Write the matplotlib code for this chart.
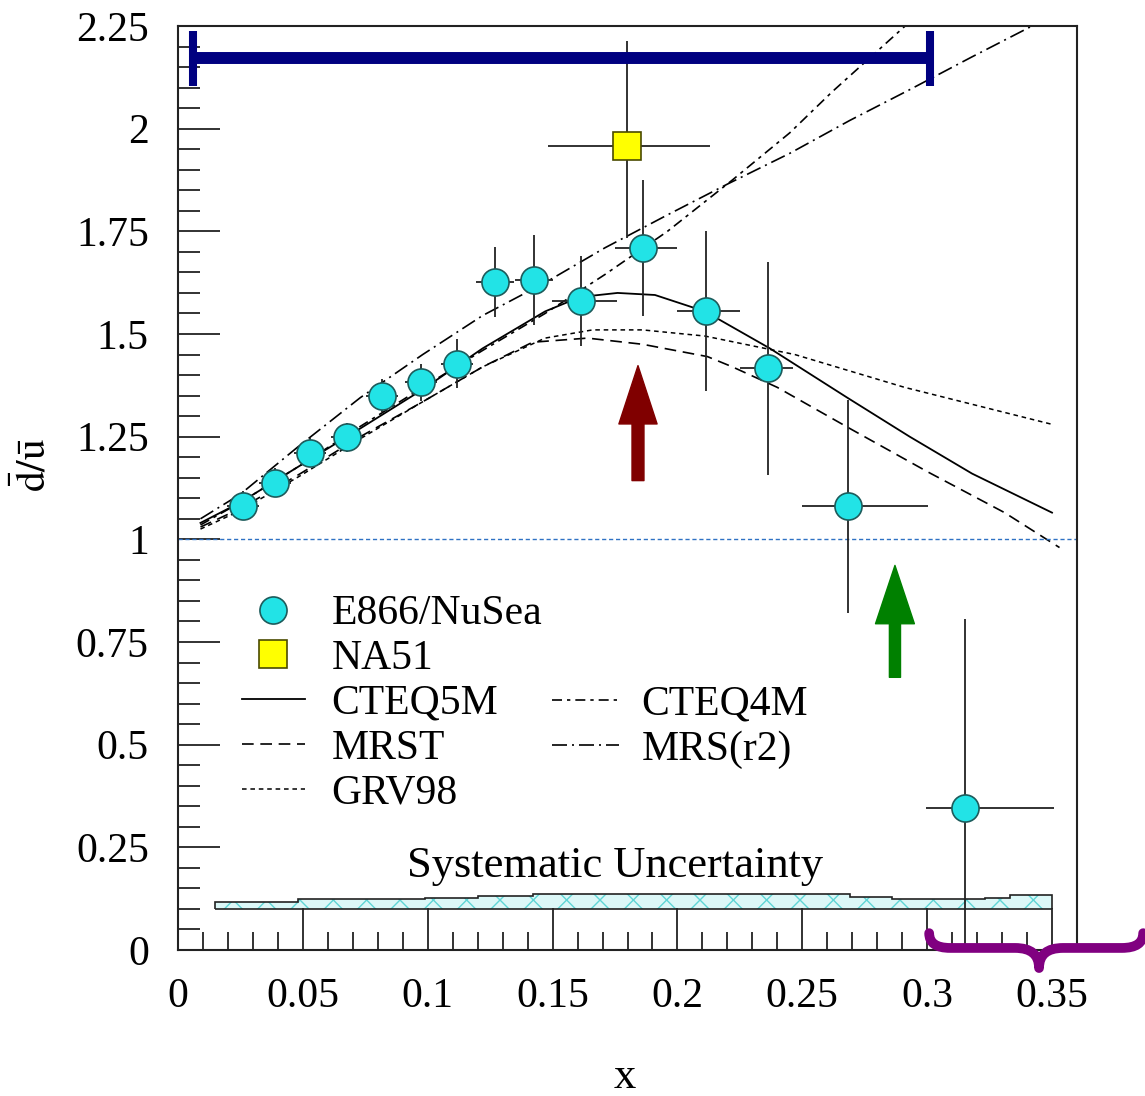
import matplotlib.pyplot as plt
from matplotlib.lines import Line2D
from matplotlib.path import Path
from matplotlib.patches import PathPatch
from matplotlib.ticker import MultipleLocator

plt.rcParams['font.family'] = ['Liberation Serif', 'DejaVu Serif']
plt.rcParams['mathtext.fontset'] = 'stix'
plt.rcParams['hatch.linewidth'] = 1.0

# E866/NuSea dbar/ubar
e866_x = [0.026, 0.0388, 0.0529, 0.0677, 0.0817, 0.0973, 0.1117, 0.127,
          0.1426, 0.1614, 0.1862, 0.2115, 0.2363, 0.2683, 0.3152]
e866_y = [1.082, 1.138, 1.211, 1.248, 1.350, 1.382, 1.428, 1.627,
          1.632, 1.581, 1.710, 1.557, 1.416, 1.080, 0.345]
e866_err = [0.035, 0.035, 0.035, 0.035, 0.04, 0.045, 0.06, 0.085,
            0.11, 0.11, 0.165, 0.195, 0.26, 0.26, 0.46]
e866_xlo = [0.0065, 0.0065, 0.0065, 0.0065, 0.0065, 0.0065, 0.0065, 0.0075,
            0.0075, 0.0116, 0.0112, 0.0118, 0.0112, 0.0184, 0.0156]
e866_xhi = [0.0065, 0.0065, 0.0065, 0.0065, 0.0065, 0.0065, 0.0065, 0.0075,
            0.0075, 0.0144, 0.0136, 0.0136, 0.0101, 0.0321, 0.0356]

# NA51
na51_x = [0.1798]
na51_y = [1.958]
na51_xerr = [[0.0316], [0.0333]]
na51_yerr = [[0.224], [0.256]]

# parametrisations
cteq5m_x = [0.009, 0.025, 0.049, 0.073, 0.098, 0.122, 0.147, 0.161, 0.176,
            0.191, 0.211, 0.237, 0.268, 0.293, 0.318, 0.350]
cteq5m_y = [1.04, 1.09, 1.18, 1.27, 1.365, 1.465, 1.555, 1.59, 1.60,
            1.595, 1.555, 1.465, 1.345, 1.25, 1.16, 1.065]
mrst_x = [0.009, 0.025, 0.049, 0.073, 0.098, 0.122, 0.142, 0.164, 0.186,
          0.212, 0.222, 0.240, 0.269, 0.300, 0.331, 0.353]
mrst_y = [1.03, 1.075, 1.16, 1.25, 1.335, 1.42, 1.48, 1.49, 1.475,
          1.445, 1.42, 1.37, 1.27, 1.165, 1.065, 0.98]
grv98_x = [0.009, 0.025, 0.049, 0.073, 0.098, 0.122, 0.147, 0.166, 0.186,
           0.211, 0.247, 0.291, 0.350]
grv98_y = [1.025, 1.07, 1.155, 1.245, 1.335, 1.42, 1.49, 1.51, 1.51,
           1.495, 1.45, 1.37, 1.28]
cteq4m_x = [0.009, 0.025, 0.049, 0.073, 0.098, 0.122, 0.147, 0.171, 0.196,
            0.222, 0.245, 0.262, 0.293]
cteq4m_y = [1.035, 1.09, 1.18, 1.275, 1.37, 1.46, 1.55, 1.645, 1.75,
            1.875, 1.99, 2.09, 2.26]
mrs_x = [0.009, 0.025, 0.049, 0.073, 0.098, 0.122, 0.147, 0.171, 0.196,
         0.22, 0.245, 0.269, 0.293, 0.318, 0.342]
mrs_y = [1.05, 1.11, 1.23, 1.345, 1.45, 1.545, 1.625, 1.71, 1.79,
         1.865, 1.94, 2.02, 2.095, 2.175, 2.25]

# systematic uncertainty band
sys_edges = [0.015, 0.048, 0.099, 0.120, 0.142, 0.269, 0.286, 0.303, 0.323, 0.333, 0.350]
sys_top = [0.117, 0.124, 0.126, 0.132, 0.136, 0.130, 0.125, 0.123, 0.127, 0.133]
sys_base = 0.10

fig = plt.figure(figsize=(11.45, 10.96), dpi=100)
ax = fig.add_axes([178 / 1145, 146 / 1096, 899 / 1145, 924 / 1096])

ls_cteq4m = (0, (6, 3, 2, 3))
ls_mrs = (0, (9, 3, 1.2, 3))

ax.plot(cteq5m_x, cteq5m_y, color='black', lw=1.3, ls='-')
ax.plot(mrst_x, mrst_y, color='black', lw=1.2, ls=(0, (7, 4)))
ax.plot(grv98_x, grv98_y, color='black', lw=1.1, ls=(0, (3, 2.5)))
ax.plot(cteq4m_x, cteq4m_y, color='black', lw=1.2, ls=ls_cteq4m)
ax.plot(mrs_x, mrs_y, color='black', lw=1.2, ls=ls_mrs)

ax.axhline(1.0, color='#2f72c4', lw=1.0, ls=(0, (3, 2)))

ax.stairs(sys_top, sys_edges, baseline=sys_base, fill=True,
          facecolor='#dcf8f8', edgecolor='#5fd6d6', hatch='x', linewidth=0)
ax.stairs(sys_top, sys_edges, baseline=sys_base, fill=False, color='#222222', lw=1.2)
ax.hlines(sys_base, sys_edges[0], sys_edges[-1], color='#222222', lw=1.2)
ax.text(0.175, 0.204, 'Systematic Uncertainty', fontsize=32, ha='center', va='center')

ax.errorbar(e866_x, e866_y, xerr=[e866_xlo, e866_xhi], yerr=e866_err, fmt='none',
            ecolor='#222222', elinewidth=1.3, zorder=3)
ax.plot(e866_x, e866_y, 'o', ms=19.5, mfc='#22e3e6', mec='#1d5b5b', mew=1.2, zorder=4)
ax.errorbar(na51_x, na51_y, xerr=na51_xerr, yerr=na51_yerr, fmt='none',
            ecolor='#222222', elinewidth=1.3, zorder=3)
ax.plot(na51_x, na51_y, 's', ms=19.5, mfc='#ffff00', mec='#4a4a00', mew=1.2, zorder=4)

# annotations
ax.errorbar([0.1536], [2.172], xerr=[0.1476], fmt='none', ecolor='#000080',
            elinewidth=8.6, capsize=19.8, capthick=5.8, zorder=5)
ax.annotate('', xy=(0.1842, 1.423), xytext=(0.1842, 1.143),
            arrowprops=dict(width=8.6, headwidth=27.5, headlength=42, shrink=0,
                            facecolor='#800000', edgecolor='#800000'))
ax.annotate('', xy=(0.2871, 0.9365), xytext=(0.2871, 0.664),
            arrowprops=dict(width=8, headwidth=28, headlength=42, shrink=0,
                            facecolor='#008000', edgecolor='#008000'))
brace = Path([(0.3008, 0.041), (0.3008, 0.005), (0.3092, 0.005), (0.3352, 0.005),
              (0.3448, 0.005), (0.3448, -0.044), (0.3448, 0.005), (0.3544, 0.005),
              (0.378, 0.005), (0.3865, 0.005), (0.3865, 0.041)],
             [Path.MOVETO, Path.CURVE3, Path.CURVE3, Path.LINETO,
              Path.CURVE3, Path.CURVE3, Path.CURVE3, Path.CURVE3,
              Path.LINETO, Path.CURVE3, Path.CURVE3])
ax.add_patch(PathPatch(brace, fill=False, edgecolor='#800080', lw=7,
                       capstyle='round', joinstyle='round', clip_on=False, zorder=6))

ax.set_xlim(0, 0.36)
ax.set_ylim(0, 2.248)
ax.xaxis.set_minor_locator(MultipleLocator(0.01))
ax.yaxis.set_minor_locator(MultipleLocator(0.05))
ax.set_xticks([0, 0.05, 0.1, 0.15, 0.2, 0.25, 0.3, 0.35])
ax.set_xticklabels(['0', '0.05', '0.1', '0.15', '0.2', '0.25', '0.3', '0.35'])
ax.set_yticks([0, 0.25, 0.5, 0.75, 1, 1.25, 1.5, 1.75, 2, 2.25])
ax.set_yticklabels(['0', '0.25', '0.5', '0.75', '1', '1.25', '1.5', '1.75', '2', '2.25'])
ax.tick_params(which='both', direction='in', labelsize=30, width=1.3, color='#222222')
ax.tick_params(axis='x', which='major', length=30, pad=20)
ax.tick_params(axis='x', which='minor', length=13)
ax.tick_params(axis='y', which='major', length=30, pad=21)
ax.tick_params(axis='y', which='minor', length=16)
for s in ax.spines.values():
    s.set_linewidth(1.5)
    s.set_color('#222222')

ax.set_xlabel('x', fontsize=32)
ax.xaxis.label.set_verticalalignment('center')
ax.xaxis.set_label_coords(0.497, -0.1375)
ax.set_ylabel(r'$\bar{\mathrm{d}}/\bar{\mathrm{u}}$', fontsize=30)
ax.yaxis.set_label_coords(-0.137, 0.525)

hA = [Line2D([], [], ls='none', marker='o', ms=19.5, mfc='#22e3e6', mec='#1d5b5b', mew=1.2),
      Line2D([], [], ls='none', marker='s', ms=19.5, mfc='#ffff00', mec='#4a4a00', mew=1.2),
      Line2D([], [], color='black', lw=1.3, ls='-'),
      Line2D([], [], color='black', lw=1.2, ls=(0, (7, 4))),
      Line2D([], [], color='black', lw=1.1, ls=(0, (3, 2.5)))]
legA = ax.legend(hA, ['E866/NuSea', 'NA51', 'CTEQ5M', 'MRST', 'GRV98'],
                 loc='upper left', bbox_to_anchor=(0.0712, 0.3844), frameon=False,
                 fontsize=30, handlelength=1.5, handletextpad=0.65, labelspacing=0.15,
                 borderpad=0, borderaxespad=0, numpoints=1)
ax.add_artist(legA)
hB = [Line2D([], [], color='black', lw=1.2, ls=ls_cteq4m),
      Line2D([], [], color='black', lw=1.2, ls=ls_mrs)]
ax.legend(hB, ['CTEQ4M', 'MRS(r2)'], loc='upper left', bbox_to_anchor=(0.416, 0.2864),
          frameon=False, fontsize=30, handlelength=1.6, handletextpad=0.55,
          labelspacing=0.15, borderpad=0, borderaxespad=0)

fig.savefig('out.png', dpi=100)
